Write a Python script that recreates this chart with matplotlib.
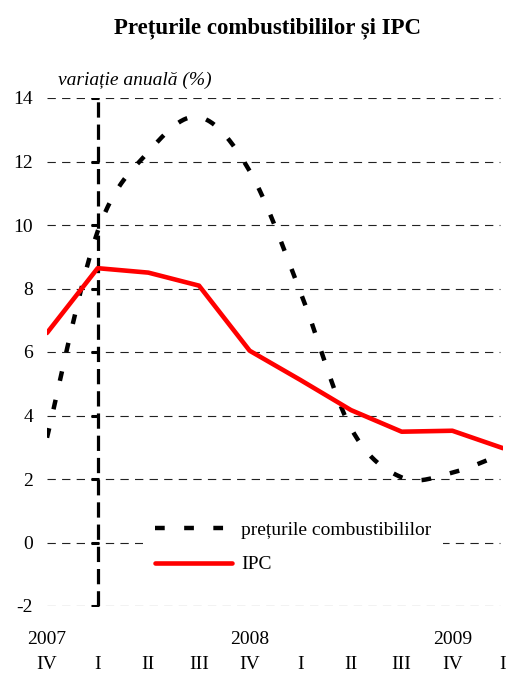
import numpy as np
import matplotlib
matplotlib.use("Agg")
import matplotlib.pyplot as plt
from matplotlib.transforms import blended_transform_factory

plt.rcParams['font.family'] = ['Liberation Serif', 'DejaVu Serif']
plt.rcParams['lines.scale_dashes'] = False

# Quarterly data, 2007 Q4 - 2009 Q4 (annual change, %)
quarters = ["IV", "I", "II", "III", "IV", "I", "II", "III", "IV", "I"]
years = ["2007", "2008", "2009"]
year_pos = [0, 4, 8]
fuel_prices = [3.3, 9.8, 12.3, 13.4, 11.7, 7.9, 3.6, 2.05, 2.2, 2.8]
cpi = [6.6, 8.64, 8.5, 8.09, 6.04, 5.12, 4.17, 3.49, 3.52, 2.97]
yticks = [-2, 0, 2, 4, 6, 8, 10, 12, 14]

label_fuel = "prețurile combustibililor"
label_cpi = "IPC"


def smooth(xs, ys, n=30):
    """Catmull-Rom curve through the given points."""
    pts = np.column_stack([xs, ys]).astype(float)
    p = np.vstack([pts[0], pts, pts[-1]])
    out = []
    t = np.linspace(0, 1, n, endpoint=False)[:, None]
    for i in range(1, len(p) - 2):
        p0, p1, p2, p3 = p[i - 1], p[i], p[i + 1], p[i + 2]
        c1 = p1 + (p2 - p0) / 6
        c2 = p2 - (p3 - p1) / 6
        seg = ((1 - t) ** 3) * p1 + 3 * ((1 - t) ** 2) * t * c1 \
            + 3 * (1 - t) * t ** 2 * c2 + t ** 3 * p2
        out.append(seg)
    out.append(pts[-1][None, :])
    out = np.vstack(out)
    return out[:, 0], out[:, 1]


W, H = 509, 673
fig = plt.figure(figsize=(W / 100, H / 100), dpi=100)
ax = fig.add_axes([47 / W, (H - 606) / H, 456 / W, 508 / H])

x = np.arange(len(quarters))
ax.set_xlim(0, len(quarters) - 1)
ax.set_ylim(-2, 14)

# horizontal dashed gridlines
for yv in yticks:
    ax.plot([0, 8.94], [yv, yv], color='#222222', lw=0.8,
            dashes=(6, 4.5), zorder=1)

# vertical value axis crossing at the first "I"
ax.plot([1, 1], [-2, 14], color='black', lw=2.3, dashes=(11, 5), zorder=2)
ax.plot(np.full(len(yticks), 0.94), yticks, ls='none', marker='_',
        markersize=5.5, markeredgewidth=2.2, color='black', zorder=2)

xs, ys = smooth(x, fuel_prices)
ax.plot(xs, ys, color='black', lw=3.2, dashes=(7, 14),
        solid_capstyle='butt', dash_capstyle='butt', zorder=3,
        label=label_fuel)
ax.plot(x, cpi, color='#ff0000', lw=3.3, zorder=4, label=label_cpi,
        solid_capstyle='round')

for s in ax.spines.values():
    s.set_visible(False)

ax.set_yticks(yticks)
ax.set_yticklabels([str(v) for v in yticks])
ax.tick_params(axis='y', length=0, pad=10, labelsize=14)
ax.set_xticks(x)
ax.set_xticklabels(quarters)
ax.tick_params(axis='x', length=0, pad=36, labelsize=14)

trans = blended_transform_factory(ax.transData, ax.transAxes)
for yr, xp in zip(years, year_pos):
    ax.text(xp, -33 / 508, yr, transform=trans, ha='center', va='center',
            fontsize=14)

leg = ax.legend(loc='upper left', bbox_to_anchor=((143 - 47) / 456, (606 - 510) / 508),
                borderaxespad=0, frameon=True, fancybox=False, fontsize=14,
                handlelength=4, handletextpad=0.45, labelspacing=0.85,
                borderpad=0.6)
leg.get_frame().set_facecolor('white')
leg.get_frame().set_edgecolor('none')
leg.get_frame().set_alpha(1)

fig.text(267 / W, 1 - 28 / H, "Prețurile combustibililor și IPC",
         ha='center', va='center', fontsize=16.5, fontweight='bold')
fig.text(58 / W, 1 - 80 / H, "variație anuală (%)", ha='left', va='center',
         fontsize=14, style='italic')

fig.savefig("out.png", dpi=100)
